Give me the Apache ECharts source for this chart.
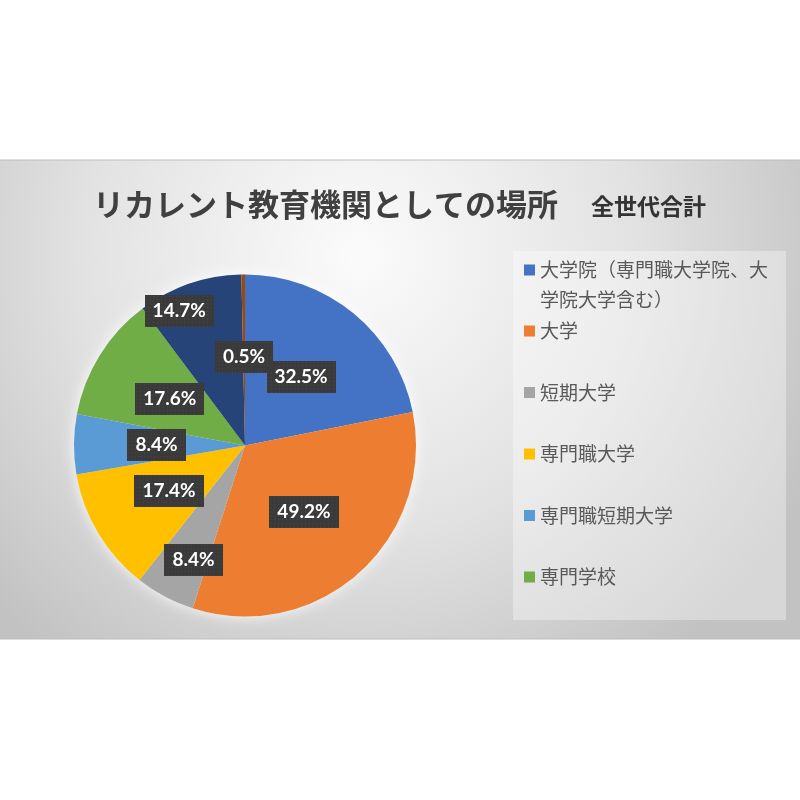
<!DOCTYPE html>
<html><head><meta charset="utf-8">
<script src="https://cdn.jsdelivr.net/npm/echarts@6/dist/echarts.min.js"></script>
<style>html,body{margin:0;padding:0;background:#fff}#c{width:800px;height:800px}</style>
</head><body><div id="c"></div>
<script>
const categories = ['大学院（専門職大学院、大学院大学含む）','大学','短期大学','専門職大学','専門職短期大学','専門学校','その他','無回答'];
const values = [32.5, 49.2, 8.4, 17.4, 8.4, 17.6, 14.7, 0.5];
const colors = ['#4472C4','#ED7D31','#A5A5A5','#FFC000','#5B9BD5','#70AD47','#264478','#9E480E'];
const titleMain = 'リカレント教育機関としての場所';
const titleSub = '全世代合計';
const legendFirstText = '\n大学院（専門職大学院、大\n学院大学含む）';
const legendRest = categories.slice(1, 6);

// label shifts (manually moved labels in the original)
const labelShift = {2: [-10, 36], 6: [-37, -51]};

// dotted dark label background
const pat = document.createElement('canvas');
pat.width = 72; pat.height = 34;
const pc = pat.getContext('2d');
pc.fillStyle = '#3a3a3a'; pc.fillRect(0, 0, 72, 34);
pc.fillStyle = '#4c4c4c';
for (let y = 1; y < 34; y += 4) for (let x = 1; x < 72; x += 4) pc.fillRect(x, y, 1, 1);

const FONT = '"Noto Sans CJK JP", "Noto Sans", sans-serif';
const chart = echarts.init(document.getElementById('c'), null, {renderer: 'canvas'});
const data = categories.map((n, i) => ({name: n, value: values[i], itemStyle: {color: colors[i]}}));

chart.setOption({
  backgroundColor: '#ffffff',
  animation: false,
  graphic: [
    {type: 'rect', z: -10, shape: {x: -2, y: 160, width: 804, height: 479},
     style: {fill: {type: 'radial', x: 0.45, y: 0.2, r: 1.05,
       colorStops: [{offset: 0, color: '#fbfbfb'}, {offset: 0.55, color: '#e2e2e2'}, {offset: 1, color: '#c2c2c2'}]},
       stroke: '#bdbdbd', lineWidth: 1}},
    {type: 'rect', z: -9, shape: {x: 513, y: 251, width: 273, height: 369},
     style: {fill: 'rgba(255,255,255,0.35)'}}
  ],
  title: {
    text: '{a|' + titleMain + '}{b|' + titleSub + '}',
    left: 93, top: 184, padding: 0,
    textStyle: {rich: {
      a: {fontSize: 31, fontWeight: 'bold', color: '#404040', lineHeight: 40, fontFamily: FONT},
      b: {fontSize: 23, fontWeight: 'bold', color: '#333333', lineHeight: 40, fontFamily: FONT, padding: [5, 0, 0, 33]}
    }}
  },
  legend: [
    {data: [categories[0]], orient: 'vertical', left: 524, top: 225, padding: 0,
     itemWidth: 11, itemHeight: 11, icon: 'rect',
     formatter: () => legendFirstText,
     textStyle: {fontSize: 19, color: '#595959', fontFamily: FONT, lineHeight: 30}},
    {data: legendRest, orient: 'vertical', left: 524, top: 316, padding: 0, itemGap: 31.5,
     itemWidth: 11, itemHeight: 11, icon: 'rect',
     textStyle: {fontSize: 19, color: '#595959', fontFamily: FONT, lineHeight: 30}}
  ],
  series: [
    {type: 'pie', silent: true, center: [245, 445.5], radius: 171, startAngle: 90, clockwise: true,
     data: values.map((v, i) => ({name: 'halo' + i, value: v})),
     label: {show: false}, labelLine: {show: false},
     itemStyle: {color: '#eeeeee', shadowBlur: 14, shadowColor: 'rgba(255,255,255,0.9)'}},
    {type: 'pie', center: [245, 445.5], radius: 171, startAngle: 90, clockwise: true,
     avoidLabelOverlap: false, data: data,
     itemStyle: {borderWidth: 0},
     labelLine: {show: false},
     label: {show: true, position: 'inside',
       formatter: p => p.value.toFixed(1) + '%',
       fontFamily: 'Lato, "Open Sans", sans-serif', fontWeight: 'bold', fontSize: 19, color: '#ffffff',
       lineHeight: 23, padding: [5, 8, 4, 8],
       backgroundColor: {image: pat},
       shadowColor: 'rgba(0,0,0,0.55)', shadowBlur: 5, shadowOffsetX: 3, shadowOffsetY: 3},
     labelLayout: p => { const o = labelShift[p.dataIndex]; return o ? {dx: o[0], dy: o[1]} : {}; }
    }
  ]
});
</script></body></html>
